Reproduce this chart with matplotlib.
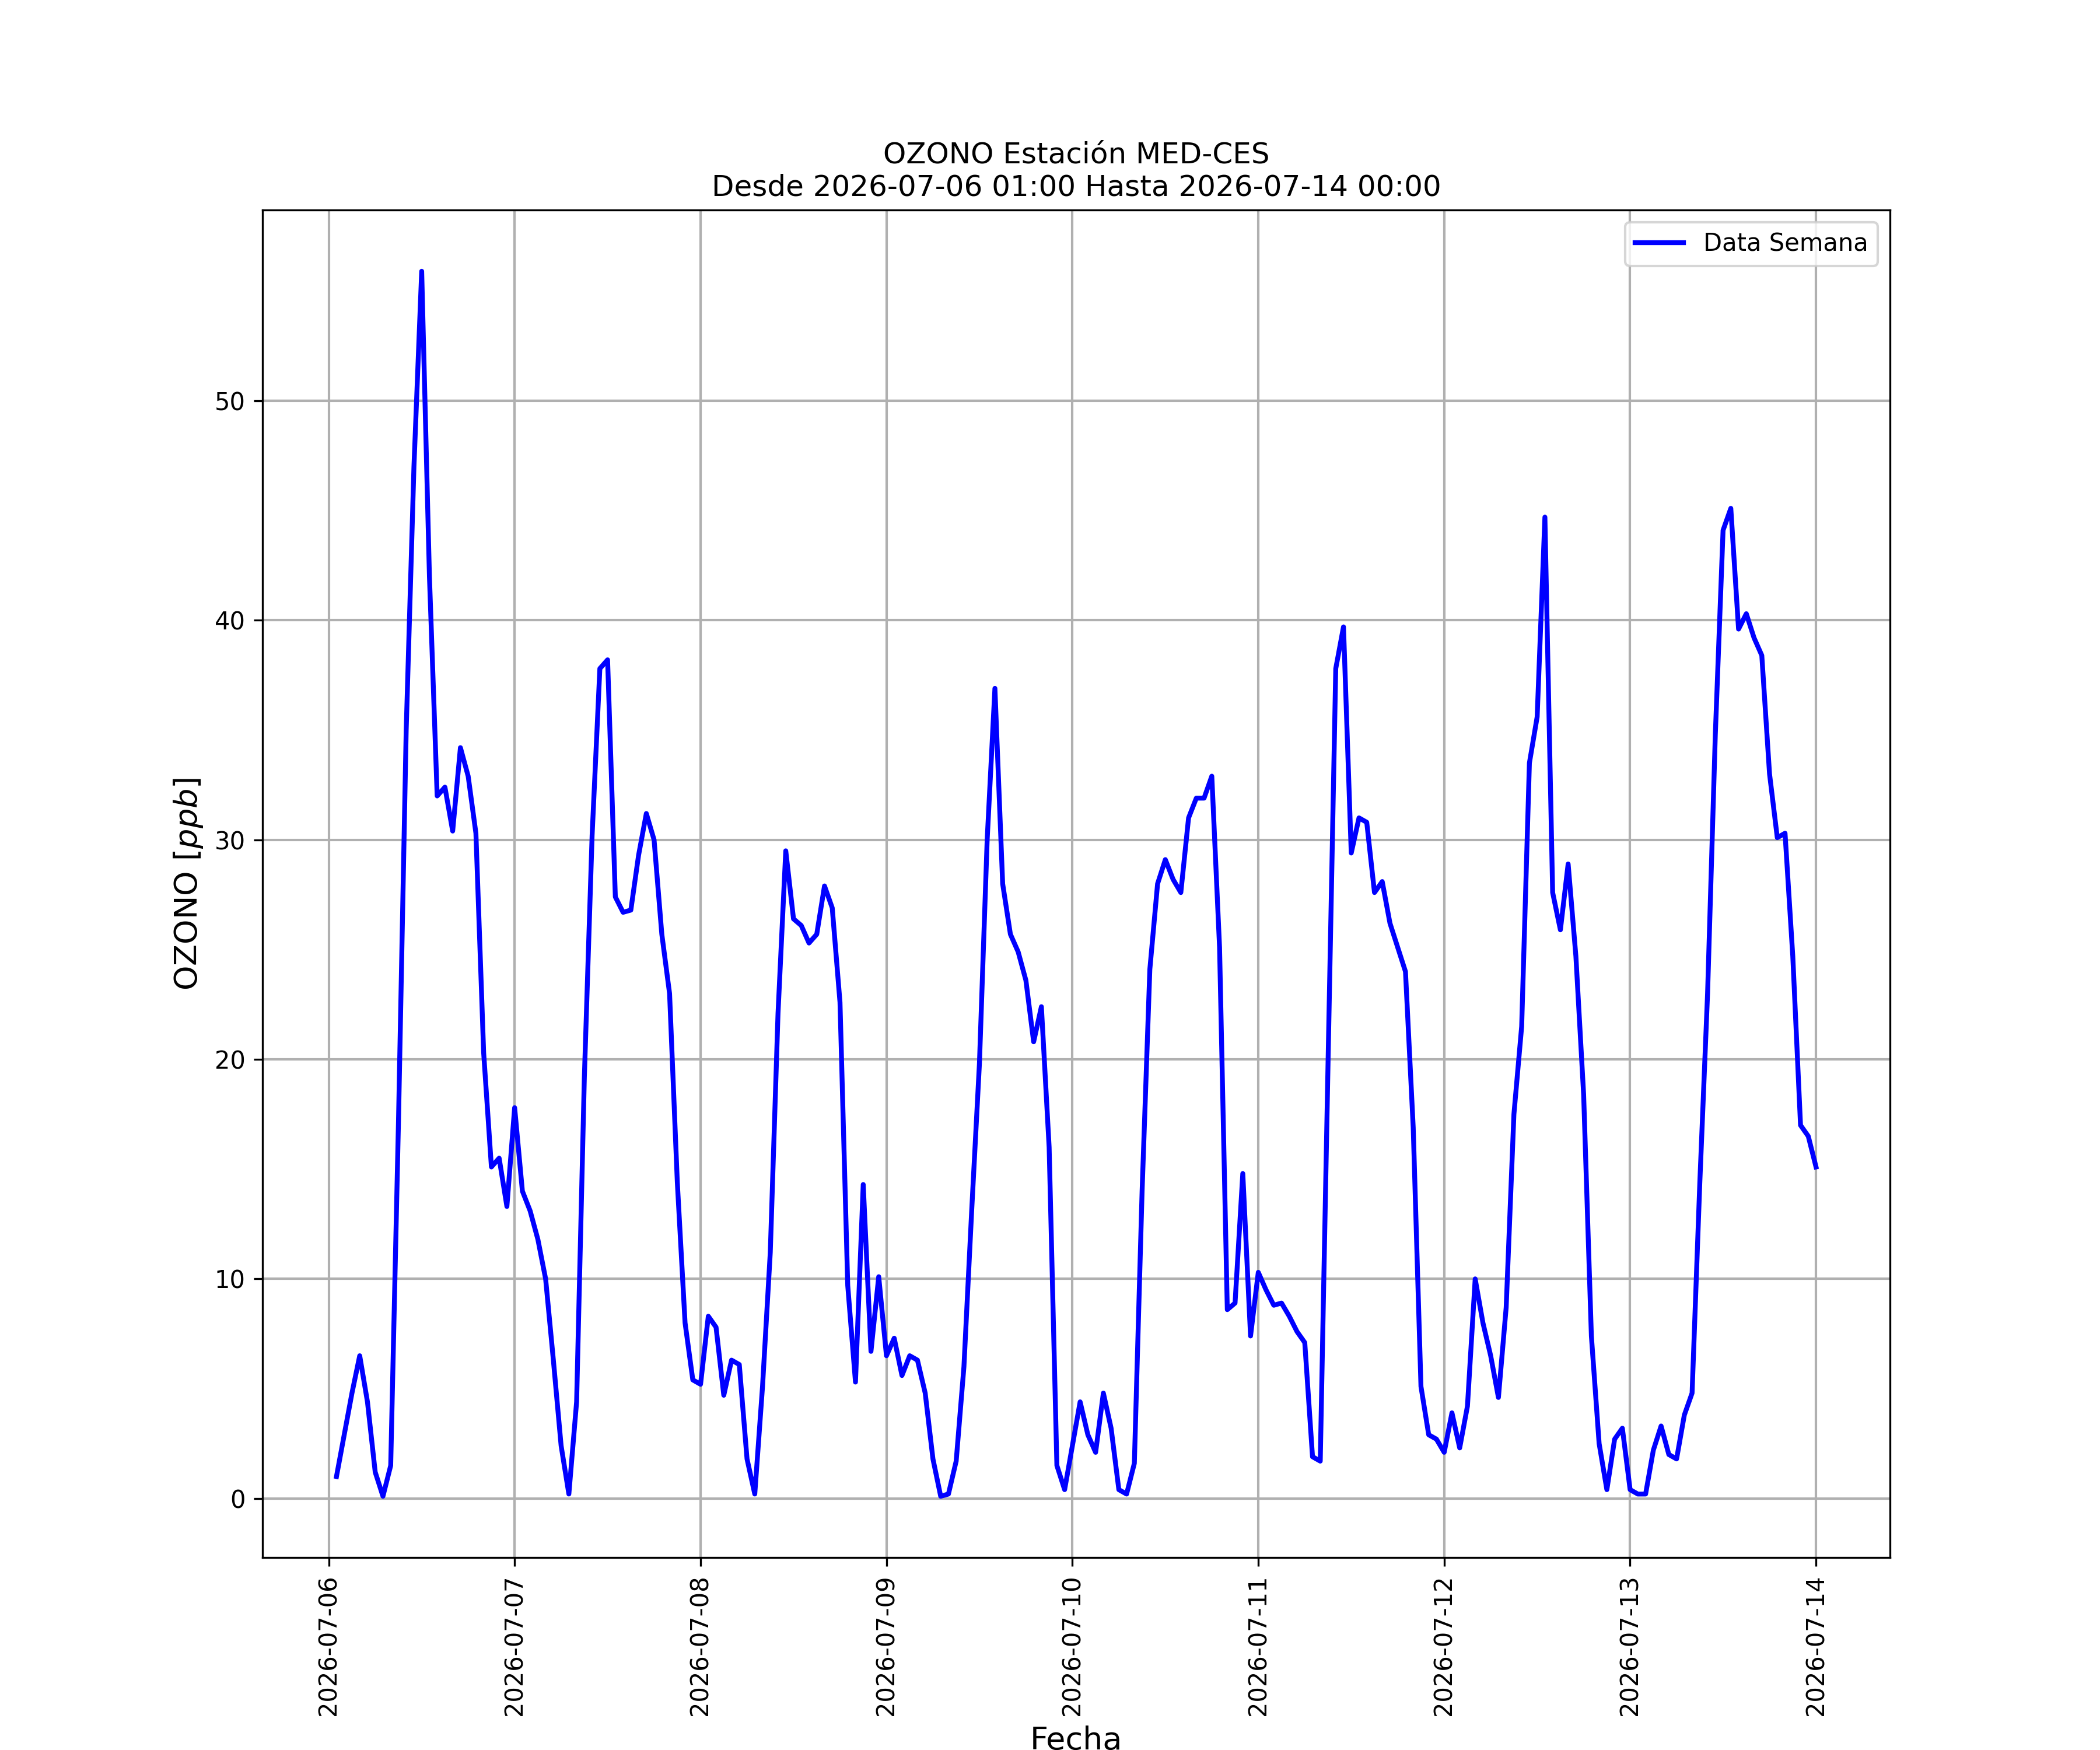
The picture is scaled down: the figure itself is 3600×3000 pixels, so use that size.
import matplotlib
matplotlib.use("Agg")
import matplotlib.pyplot as plt
import matplotlib.dates as mdates
import numpy as np
import pandas as pd

# hourly ozone values, one list per day (01:00 ... 24:00)
dia_06 = [1.0, 2.9, 4.8, 6.5, 4.4, 1.2, 0.1, 1.5, 17.1, 35.0, 47.0, 55.9,
          42.0, 32.0, 32.4, 30.4, 34.2, 32.9, 30.3, 20.3, 15.1, 15.5, 13.3, 17.8]
dia_07 = [14.0, 13.1, 11.8, 10.0, 6.3, 2.4, 0.2, 4.4, 19.2, 30.2, 37.8, 38.2,
          27.4, 26.7, 26.8, 29.3, 31.2, 30.0, 25.7, 23.0, 14.4, 8.0, 5.4, 5.2]
dia_08 = [8.3, 7.8, 4.7, 6.3, 6.1, 1.8, 0.2, 5.1, 11.2, 22.1, 29.5, 26.4,
          26.1, 25.3, 25.7, 27.9, 26.9, 22.6, 9.7, 5.3, 14.3, 6.7, 10.1, 6.5]
dia_09 = [7.3, 5.6, 6.5, 6.3, 4.8, 1.8, 0.1, 0.2, 1.7, 6.0, 13.1, 19.8,
          30.0, 36.9, 28.0, 25.7, 24.9, 23.6, 20.8, 22.4, 16.0, 1.5, 0.4, 2.4]
dia_10 = [4.4, 2.9, 2.1, 4.8, 3.2, 0.4, 0.2, 1.6, 14.0, 24.1, 28.0, 29.1,
          28.2, 27.6, 31.0, 31.9, 31.9, 32.9, 25.1, 8.6, 8.9, 14.8, 7.4, 10.3]
dia_11 = [9.5, 8.8, 8.9, 8.3, 7.6, 7.1, 1.9, 1.7, 19.7, 37.8, 39.7, 29.4,
          31.0, 30.8, 27.6, 28.1, 26.2, 25.1, 24.0, 16.9, 5.1, 2.9, 2.7, 2.1]
dia_12 = [3.9, 2.3, 4.2, 10.0, 8.0, 6.5, 4.6, 8.7, 17.5, 21.5, 33.5, 35.6,
          44.7, 27.6, 25.9, 28.9, 24.7, 18.4, 7.4, 2.5, 0.4, 2.7, 3.2, 0.4]
dia_13 = [0.2, 0.2, 2.2, 3.3, 2.0, 1.8, 3.8, 4.8, 14.4, 23.0, 34.8, 44.1,
          45.1, 39.6, 40.3, 39.2, 38.4, 33.0, 30.1, 30.3, 24.7, 17.0, 16.5, 15.1]

ozono = dia_06 + dia_07 + dia_08 + dia_09 + dia_10 + dia_11 + dia_12 + dia_13
fechas = pd.date_range("2026-07-06 01:00", periods=len(ozono), freq="h")

fig, ax = plt.subplots(figsize=(12, 10), dpi=300)
ax.plot(fechas, ozono, color="blue", linewidth=2, label="Data Semana")

ax.set_title("OZONO Estación MED-CES\nDesde 2026-07-06 01:00 Hasta 2026-07-14 00:00",
             fontsize=12)
ax.set_xlabel("Fecha", fontsize=13)
ax.set_ylabel("OZONO [$ppb$]", fontsize=13)

ax.xaxis.set_major_locator(mdates.DayLocator())
ax.xaxis.set_major_formatter(mdates.DateFormatter("%Y-%m-%d"))
plt.setp(ax.get_xticklabels(), rotation=90)
ax.tick_params(labelsize=10)

ax.grid(True, color="#b0b0b0", linewidth=1)
ax.legend(loc="upper right", fontsize=10)

fig.savefig("out.png", dpi=300)
